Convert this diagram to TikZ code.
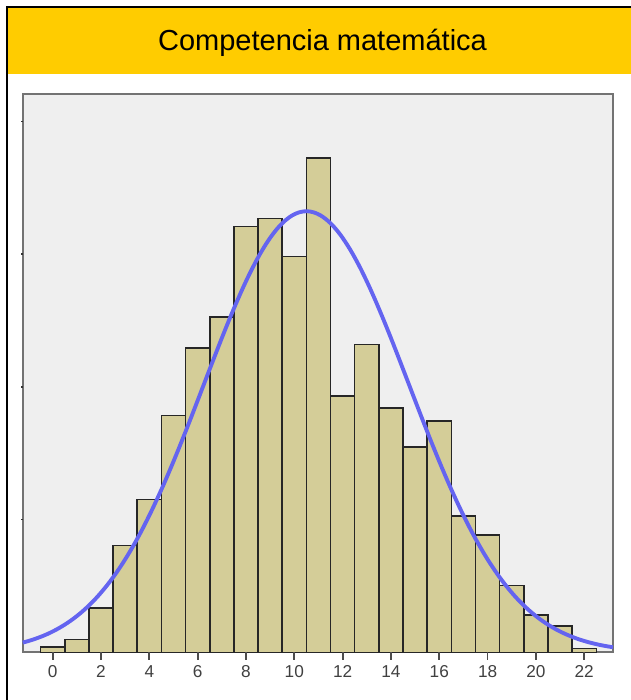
\documentclass[tikz,border=0pt]{standalone}
\usepackage{fontspec}
\setmainfont{Liberation Sans}
\definecolor{headeryellow}{HTML}{FFCC00}
\definecolor{plotgray}{HTML}{EFEFEF}
\definecolor{bartan}{HTML}{D4CD98}
\definecolor{curveblue}{HTML}{6464F0}
\tikzset{
  bar/.style={fill=bartan, draw=black!85, line width=0.9pt},
  ticklabel/.style={anchor=north, inner sep=3pt, text=black!75, font=\fontsize{9.8}{11}\selectfont},
}

\begin{document}
\begin{tikzpicture}
    \useasboundingbox (0,0) rectangle (12.62,14);
    \fill[headeryellow] (0.16,12.52) rectangle (12.62,13.84);
    \draw[line width=1.1pt] (0.14,0) -- (0.14,13.86) -- (12.62,13.86);
    \node[font=\fontsize{16.5}{20}\selectfont] (title) at (6.45,13.14) {Competencia matemática};
    
    \filldraw[fill=plotgray, draw=black!55, line width=1.1pt] (0.46,0.954) rectangle (12.26,12.12);
    
    \begin{scope}[shift={(1.054,0.954)}, x=0.4832cm, y=2.654cm]
    \foreach \v [count=\i from 0] in {0.042,0.098,0.336,0.806,1.153,1.786,2.291,2.525,3.210,3.270,2.984,3.723,1.933,2.321,1.839,1.545,1.745,1.027,0.882,0.502,0.283,0.196,0.030}
        \draw[bar] (\i-0.5,0) rectangle (\i+0.5,\v);
    
    \draw[curveblue, line width=2.2pt, domain=-1.24:23.19, samples=120, smooth] plot (\x,{3.323*exp(-((\x-10.5)^2)/(2*4.25^2))});
    
    \foreach \t in {1,...,4}
        \draw[black!80, line width=1pt] (-1.24,\t) -- (-1.33,\t);
    
    \foreach \t in {0,2,...,22} {
        \draw[black!70, line width=1pt] (\t,0) -- (\t,-0.06) coordinate (xt\t);
        \node[ticklabel] (xl\t) at (xt\t) {\t};
    }
    \end{scope}
\end{tikzpicture}
\end{document}
